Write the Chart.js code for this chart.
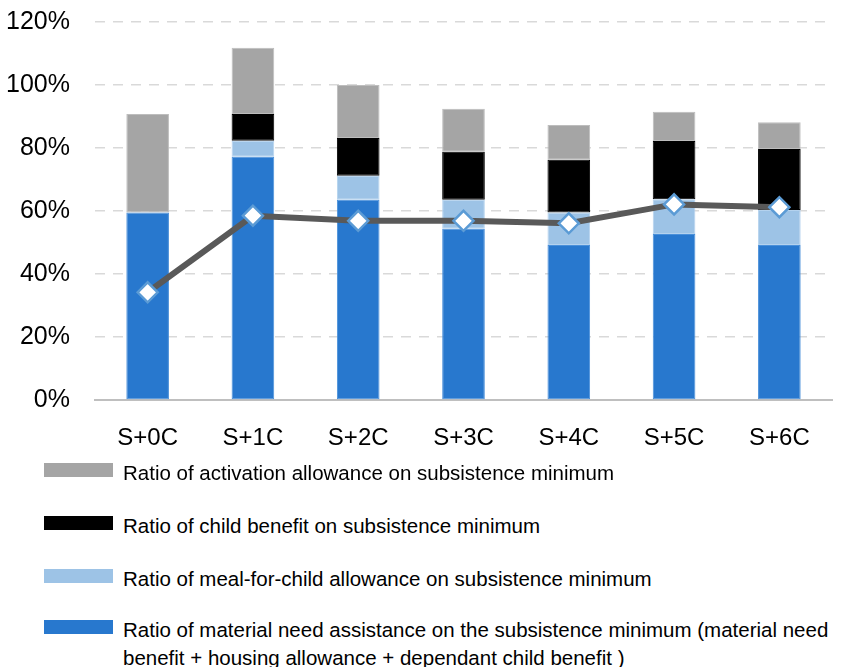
<!DOCTYPE html>
<html>
<head>
<meta charset="utf-8">
<script src="https://cdn.jsdelivr.net/npm/chart.js@4/dist/chart.umd.min.js"></script>
<style>
  html, body { margin: 0; padding: 0; background: #fff; }
  #wrap { position: relative; width: 851px; height: 667px; overflow: hidden; font-family: "Liberation Sans", Arial, sans-serif; }
  #c { position: absolute; left: 0; top: 0; }
  .lg { position: absolute; left: 44px; width: 790px; }
  .lg .box { position: absolute; left: 0; width: 69px; height: 14px; }
  .lg .txt { position: absolute; left: 79px; width: 712px; font-size: 20.5px; line-height: 28px; color: #000; }
</style>
</head>
<body>
<div id="wrap">
  <canvas id="c" width="851" height="460"></canvas>
  <div id="legend"></div>
</div>
<script>
const categories = ["S+0C", "S+1C", "S+2C", "S+3C", "S+4C", "S+5C", "S+6C"];
const materialNeed = [59.5, 77.2, 63.6, 54.4, 49.2, 52.7, 49.2];
const mealForChild = [0, 5.1, 7.6, 9.2, 10.3, 11.0, 11.1];
const childBenefit = [0, 8.5, 12.0, 15.2, 16.8, 18.5, 19.4];
const activation = [31.3, 21.0, 16.8, 13.7, 11.0, 9.3, 8.5];
const lineSeries = [34.2, 58.5, 56.9, 56.9, 56.1, 62.1, 61.2];
const yTicks = [0, 20, 40, 60, 80, 100, 120];

const seriesNames = {
  activation: "Ratio of activation allowance on subsistence minimum",
  child: "Ratio of child benefit on subsistence minimum",
  meal: "Ratio of meal-for-child allowance on subsistence minimum",
  material: "Ratio of material need assistance on the subsistence minimum (material need benefit + housing allowance + dependant child benefit )"
};

const colors = {
  material: "#2878CE",
  meal: "#9DC3E6",
  child: "#000000",
  activation: "#A5A5A5",
  line: "#595959",
  marker: "#5B9BD5"
};

function bw(ctx) { return ctx.raw ? 1 : 0; }

const barCommon = { order: 1, categoryPercentage: 1, barPercentage: 0.405, stack: "s", borderSkipped: false };

new Chart(document.getElementById("c"), {
  type: "bar",
  data: {
    labels: categories,
    datasets: [
      Object.assign({ label: seriesNames.material, data: materialNeed, backgroundColor: colors.material, borderColor: "#4A90DA", borderWidth: bw }, barCommon),
      Object.assign({ label: seriesNames.meal, data: mealForChild, backgroundColor: colors.meal, borderColor: "#B4D2EE", borderWidth: bw }, barCommon),
      Object.assign({ label: seriesNames.child, data: childBenefit, backgroundColor: colors.child, borderColor: "#000", borderWidth: bw }, barCommon),
      Object.assign({ label: seriesNames.activation, data: activation, backgroundColor: colors.activation, borderColor: "#BDBDBD", borderWidth: bw }, barCommon),
      {
        type: "line", label: "line", data: lineSeries, order: 0, stack: "line",
        borderColor: colors.line, borderWidth: 6, tension: 0,
        pointStyle: "rectRot", pointRadius: 10, pointBackgroundColor: "#fff",
        pointBorderColor: colors.marker, pointBorderWidth: 2.5
      }
    ]
  },
  options: {
    responsive: false,
    animation: false,
    devicePixelRatio: 1,
    layout: { autoPadding: false, padding: { top: 22, right: 19, bottom: 0, left: 0 } },
    plugins: { legend: { display: false }, tooltip: { enabled: false } },
    scales: {
      x: {
        stacked: true,
        grid: { display: false },
        border: { display: true, color: "#BFBFBF", width: 2 },
        ticks: { color: "#000", font: { family: "Liberation Sans", size: 24 }, padding: 16, maxRotation: 0 },
        afterFit: s => { s.height = 60; s.paddingLeft = 0; s.paddingRight = 0; }
      },
      y: {
        stacked: true,
        min: 0, max: 120,
        afterBuildTicks: s => { s.ticks = yTicks.map(v => ({ value: v })); },
        grid: { color: c => c.tick && c.tick.value === 0 ? "rgba(0,0,0,0)" : "#D9D9D9", lineWidth: 1.5, drawTicks: false },
        border: { display: false, dash: [10, 8] },
        ticks: { color: "#000", font: { family: "Liberation Sans", size: 25 }, padding: 25, callback: v => v + "%" },
        afterFit: s => { s.width = 95; s.paddingTop = 0; s.paddingBottom = 0; }
      }
    }
  }
});

const legendItems = [
  { key: "activation", top: 463, textTop: 459 },
  { key: "child", top: 516, textTop: 512 },
  { key: "meal", top: 569, textTop: 565 },
  { key: "material", top: 620, textTop: 616 }
];
const lg = document.getElementById("legend");
legendItems.forEach(it => {
  const d = document.createElement("div");
  d.className = "lg";
  d.style.top = "0px";
  const b = document.createElement("div");
  b.className = "box";
  b.style.top = it.top + "px";
  b.style.background = colors[it.key];
  const t = document.createElement("div");
  t.className = "txt";
  t.style.top = it.textTop + "px";
  t.textContent = seriesNames[it.key];
  d.appendChild(b); d.appendChild(t);
  lg.appendChild(d);
});
</script>
</body>
</html>
